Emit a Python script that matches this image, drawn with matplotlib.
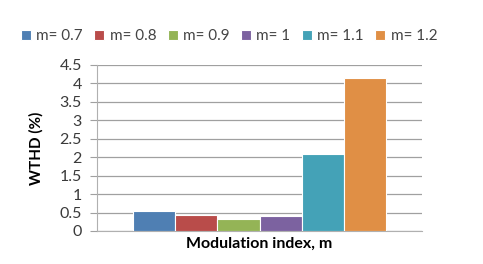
import numpy as np
import matplotlib.pyplot as plt

plt.rcParams['font.family'] = ['Lato', 'DejaVu Sans']

labels = ["m= 0.7", "m= 0.8", "m= 0.9", "m= 1", "m= 1.1", "m= 1.2"]
wthd = [0.54, 0.44, 0.33, 0.41, 2.09, 4.16]
colors = ["#4f7fb3", "#b94c4a", "#94b456", "#7c62a0", "#44a2b7", "#e08f45"]
yticks = np.arange(0, 4.51, 0.5)
ytick_labels = ["0", "0.5", "1", "1.5", "2", "2.5", "3", "3.5", "4", "4.5"]

fig = plt.figure(figsize=(4.83, 2.64), dpi=100)
ax = fig.add_axes([97 / 483, 1 - 231 / 264, (422 - 97) / 483, (231 - 65) / 264])

w = 0.13
n = len(wthd)
for i, (lab, v, c) in enumerate(zip(labels, wthd, colors)):
    ax.bar((i - (n - 1) / 2) * w, v, width=w, color=c, edgecolor="white",
           linewidth=0.8, label=lab, zorder=3)

ax.set_xlim(-0.5, 0.5)
ax.set_ylim(0, 4.5)
ax.set_yticks(yticks)
ax.set_yticklabels(ytick_labels)
ax.set_xticks([])
ax.grid(axis="y", color="#a0a0a0", linewidth=0.9, zorder=0)
for s in ["top", "right"]:
    ax.spines[s].set_visible(False)
ax.spines["left"].set_color("#b0b0b0")
ax.spines["bottom"].set_color("#b0b0b0")
ax.tick_params(axis="y", length=5, color="#a0a0a0", labelsize=11.5,
               labelcolor="#3a3a3a", pad=6)

ax.set_ylabel("WTHD (%)", fontsize=11, fontweight="bold", labelpad=11)
ax.set_xlabel("Modulation index, m", fontsize=11.5, fontweight="bold", labelpad=4)

ax.legend(loc="center left", bbox_to_anchor=(-76 / 325, 1 + 29 / 166), ncol=6,
          frameon=False, fontsize=11, handlelength=0.65, handleheight=0.65,
          handletextpad=0.35, columnspacing=0.75, labelcolor="#444444",
          borderaxespad=0, borderpad=0)

fig.savefig("out.png", dpi=100)
